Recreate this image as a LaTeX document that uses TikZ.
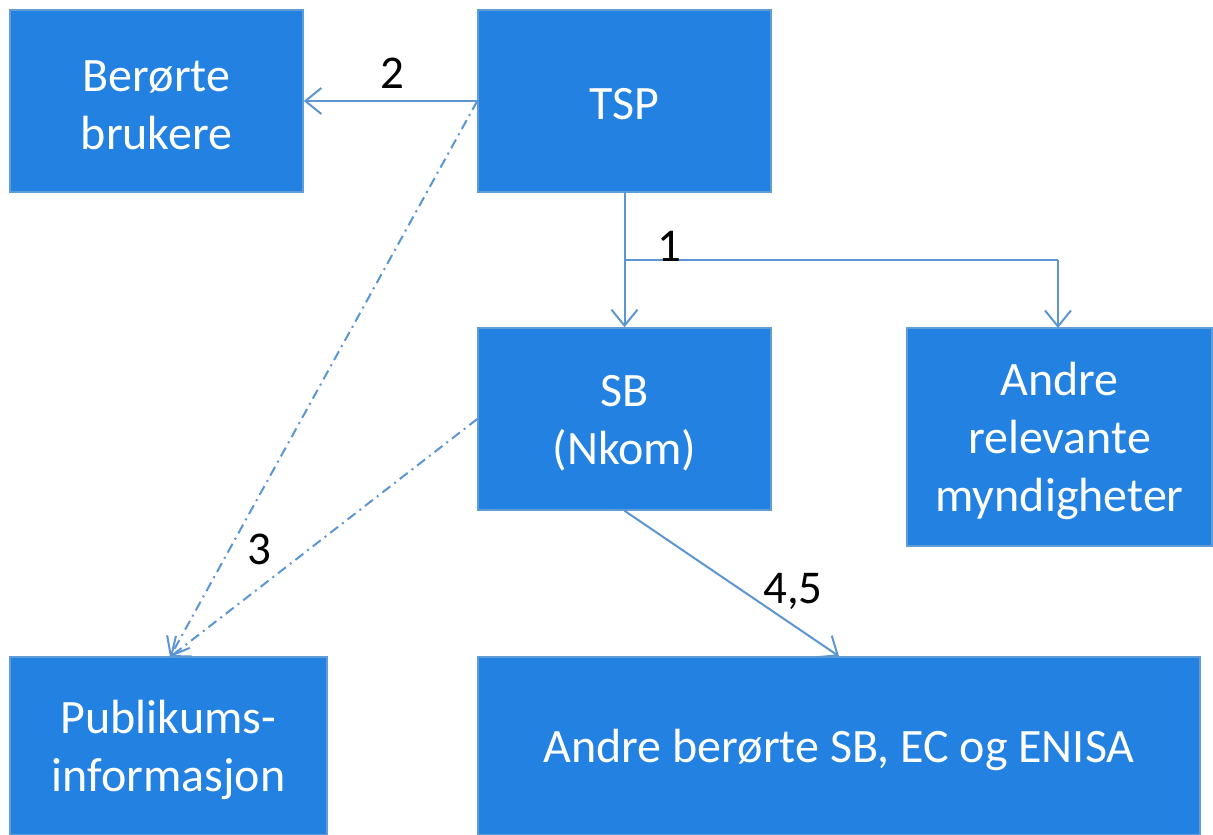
\documentclass[tikz,border=0pt]{standalone}
\usepackage{fontspec}
\setmainfont{Carlito}
\usetikzlibrary{arrows.meta,calc}
\definecolor{boxfill}{RGB}{35,130,225}
\definecolor{boxline}{RGB}{96,156,214}
\definecolor{conn}{RGB}{91,150,210}
\tikzset{
  box/.style={rectangle, fill=boxfill, draw=boxline, line width=1.5pt, text=white, align=center, inner sep=0pt, font=\fontsize{48}{58}\selectfont},
  boxtext/.style={text=white, align=center, inner sep=0pt, font=\fontsize{48}{58}\selectfont},
  lbl/.style={text=black, inner sep=0pt, font=\fontsize{47}{58}\selectfont},
  conline/.style={draw=conn, line width=2pt},
  arr/.style={conline, -{Straight Barb[length=16pt,width=26pt,line width=2pt]}},
  dashdot/.style={arr, dash pattern=on 10pt off 5pt on 2pt off 5pt}
}
\begin{document}
\begin{tikzpicture}[x=1pt,y=-1pt]
\useasboundingbox (0,0) rectangle (1213,835);
\node[box, minimum width=293pt, minimum height=182pt] (ber) at (156.5,101) {};
\node[box, minimum width=293pt, minimum height=182pt] (tsp) at (624.5,101) {};
\node[box, minimum width=293pt, minimum height=182pt] (sb) at (624.5,419) {};
\node[box, minimum width=305pt, minimum height=218pt] (andre) at (1059.5,437) {};
\node[box, minimum width=317pt, minimum height=178pt] (pub) at (168.5,746) {};
\node[box, minimum width=722pt, minimum height=178pt] (enisa) at (839,746) {};
\node[boxtext] (tber) at ([yshift=-4pt]ber.center) {Berørte\\brukere};
\node[boxtext] (ttsp) at ([yshift=-3pt]tsp.center) {TSP};
\node[boxtext] (tsb) at ([yshift=-4pt]sb.center) {SB\\(Nkom)};
\node[boxtext] (tandre) at ([yshift=-4pt]andre.center) {Andre\\relevante\\myndigheter};
\node[boxtext] (tpub) at ([yshift=-4pt]pub.center) {Publikums-\\informasjon};
\node[boxtext] (tenisa) at ([yshift=-4pt]enisa.center) {Andre berørte SB, EC og ENISA};
\coordinate (j) at (624.5,260);
\coordinate (pubtip) at (170,657);
\draw[arr] (tsp.west) -- (ber.east);
\draw[arr] (tsp.south) -- (sb.north);
\draw[conline] (j) -- (1058,260);
\draw[arr] (1058,260) -- (1058,328);
\draw[dashdot] (tsp.west) -- (pubtip);
\draw[dashdot] (sb.west) -- (pubtip);
\draw[arr] (sb.south) -- (enisa.north);
\node[lbl] (l2) at (392,73) {2};
\node[lbl] (l1) at (669,246) {1};
\node[lbl] (l3) at (259,549) {3};
\node[lbl] (l45) at (793,591) {4,5};
\end{tikzpicture}
\end{document}
